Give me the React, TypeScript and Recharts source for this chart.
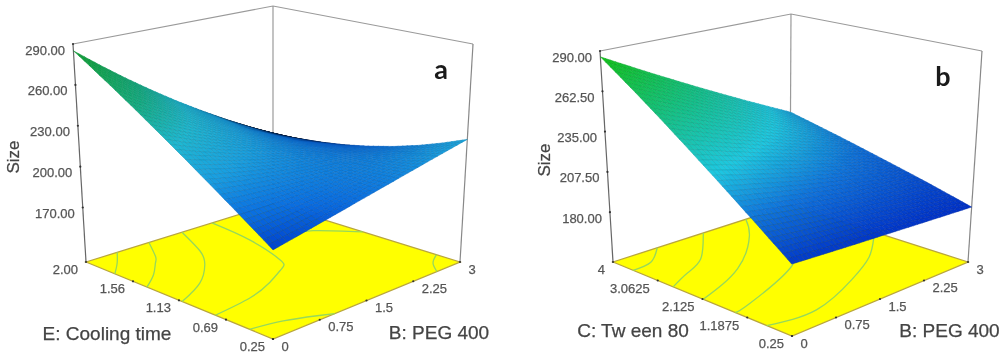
import React from "react";
import { ScatterChart, Scatter, XAxis, YAxis, Curve } from "recharts";

// ---------- values ----------
const pegTicks = [0, 0.75, 1.5, 2.25, 3];
const coolTicks = [0.25, 0.69, 1.13, 1.56, 2.0];
const tweenTicks = [0.25, 1.1875, 2.125, 3.0625, 4];
const sizeTicksA = [170, 200, 230, 260, 290];
const sizeTicksB = [180, 207.5, 235, 262.5, 290];

const sizeGridA = [
  [184, 187.6, 191.5, 195.6, 200, 204.6, 209.5, 214.6, 220],
  [194.8, 196.1, 197.6, 199.5, 201.6, 204, 206.7, 209.7, 213],
  [206.1, 205.1, 204.4, 204, 203.9, 204.1, 204.7, 205.6, 206.7],
  [217.9, 214.6, 211.7, 209.1, 206.9, 204.9, 203.4, 202.2, 201.3],
  [230.3, 224.8, 219.6, 214.9, 210.5, 206.5, 202.9, 199.6, 196.8],
  [243.1, 235.4, 228.1, 221.3, 214.8, 208.8, 203.1, 197.9, 193],
  [256.6, 246.8, 237.4, 228.4, 219.9, 211.8, 204.2, 197, 190.2],
  [270.5, 258.6, 247.1, 236.1, 225.6, 215.6, 205.9, 196.9, 188.2],
  [285, 271, 257.5, 244.5, 232, 220, 208.5, 197.5, 187],
];
const sizeGridB = [
  [186.6, 186.2, 185.8, 185.4, 185.1, 184.7, 184.3, 183.9, 183.5],
  [197.2, 196, 194.8, 193.6, 192.4, 191.2, 190, 188.8, 187.6],
  [208.3, 206.2, 204.2, 202.1, 200, 197.9, 195.9, 193.8, 191.7],
  [219.9, 216.9, 213.9, 210.8, 207.8, 204.8, 201.8, 198.8, 195.7],
  [232, 228, 223.9, 219.9, 215.9, 211.8, 207.8, 203.7, 199.7],
  [244.7, 239.6, 234.5, 229.4, 224.3, 219.1, 214, 208.9, 203.8],
  [258, 251.7, 245.5, 239.2, 233, 226.7, 220.4, 214.2, 207.9],
  [271.7, 264.2, 256.8, 249.3, 241.8, 234.3, 226.9, 219.4, 211.9],
  [286, 277.3, 268.5, 259.8, 251, 242.3, 233.5, 224.8, 216],
];

// floor contours as [PEG 400, second factor]
const contoursA = [
  [[0.5, 2], [0.26, 1.86], [0, 1.73]],
  [[1.01, 2], [0.74, 1.78], [0.6, 1.7], [0.33, 1.56], [0, 1.43]],
  [[1.54, 2], [1.25, 1.66], [0.98, 1.46], [0.54, 1.25], [0, 1.1]],
  [[2.02, 2], [1.92, 1.58], [1.71, 1.18], [1.53, 1.06], [1.13, 0.94], [0.64, 0.84], [0, 0.79]],
  [[0, 0.47], [0.44, 0.41], [0.81, 0.31], [0.99, 0.25]],
  [[2.4, 1.48], [2.65, 1.42], [3, 1.16]],
  [[3, 0.47], [2.79, 0.38], [2.63, 0.25]],
];
const contoursB = [
  [[0.75, 4], [0.35, 3.64], [0, 3.58]],
  [[1.53, 4], [0.89, 3.26], [0.45, 2.99], [0, 2.74]],
  [[2.25, 4], [1.86, 3.44], [0.99, 2.61], [0, 2.11]],
  [[0, 1.44], [0.32, 1.53], [1.47, 2.09], [1.8, 2.58]],
  [[0, 0.78], [0.75, 0.66], [1.7, 1.09], [2.36, 1.54], [2.85, 2.05]],
];

// ---------- panel set-up ----------
type Pt = [number, number];
const panelA = {
  grid: sizeGridA, contours: contoursA, sizeTicks: sizeTicksA, vTicks: coolTicks,
  sizeDomain: [130, 290], vDomain: [0.25, 2], fmtV: (t: number) => t.toFixed(2),
  floor: { F: [273, 339] as Pt, R: [460, 262] as Pt, L: [86, 262] as Pt, B: [273, 204] as Pt },
  top: { F: [273, 75] as Pt, R: [473, 44] as Pt, L: [73, 44] as Pt, B: [273, 6] as Pt },
  stops: [[184, 0, 65, 205], [198, 10, 110, 225], [215, 25, 160, 225], [232, 30, 185, 210], [252, 20, 175, 130], [285, 15, 165, 50]],
  titles: [
    { sx: 107, sy: 333, text: "E: Cooling time" },
    { sx: 439, sy: 332, text: "B: PEG 400" },
  ],
  sizeLabel: { sx: 13, sy: 157, text: "Size" },
  letter: { sx: 441, sy: 68, text: "a" },
};
const panelB = {
  grid: sizeGridB, contours: contoursB, sizeTicks: sizeTicksB, vTicks: tweenTicks,
  sizeDomain: [146, 290], vDomain: [0.25, 4], fmtV: (t: number) => String(t),
  floor: { F: [292, 336] as Pt, R: [468, 262] as Pt, L: [113, 262] as Pt, B: [290, 205] as Pt },
  top: { F: [291, 81] as Pt, R: [482, 51] as Pt, L: [100, 51] as Pt, B: [291, 14] as Pt },
  stops: [[184, 0, 50, 200], [205, 15, 115, 220], [225, 30, 200, 225], [250, 20, 195, 140], [285, 15, 195, 25]],
  titles: [
    { sx: 133, sy: 330, text: "C: Tw een 80" },
    { sx: 449.5, sy: 330, text: "B: PEG 400" },
  ],
  sizeLabel: { sx: 44, sy: 160, text: "Size" },
  letter: { sx: 443, sy: 75, text: "b" },
};
type Panel = typeof panelA;

const W = 500;
const H = 356;
const SUB = 5;

const mix = (a: Pt, b: Pt, t: number): Pt => [a[0] + (b[0] - a[0]) * t, a[1] + (b[1] - a[1]) * t];
const plane = (q: Panel["floor"], u: number, v: number): Pt =>
  mix(mix(q.F, q.R, u), mix(q.L, q.B, u), v);
const project = (p: Panel, u: number, v: number, w: number): Pt =>
  mix(plane(p.floor, u, v), plane(p.top, u, v), w);
const uOf = (peg: number) => peg / 3;
const vOf = (p: Panel, t: number) => (t - p.vDomain[0]) / (p.vDomain[1] - p.vDomain[0]);
const wOf = (p: Panel, z: number) => (z - p.sizeDomain[0]) / (p.sizeDomain[1] - p.sizeDomain[0]);

const at = (p: Panel, u: number, v: number, w: number, extra: object = {}) => {
  const [sx, sy] = project(p, u, v, w);
  return { sx, sy, ...extra };
};

const colorOf = (p: Panel, z: number, k: number) => {
  const s = p.stops;
  let c = s[s.length - 1].slice(1);
  if (z <= s[0][0]) c = s[0].slice(1);
  else
    for (let i = 0; i < s.length - 1; i++) {
      if (z >= s[i][0] && z <= s[i + 1][0]) {
        const t = (z - s[i][0]) / (s[i + 1][0] - s[i][0]);
        c = [1, 2, 3].map((n) => s[i][n] + (s[i + 1][n] - s[i][n]) * t);
      }
    }
  return `rgb(${c.map((x) => Math.round(x * k)).join(",")})`;
};

// one grid cell of the response surface
const CellShape = (props: any) => {
  const { cx, cy, payload } = props;
  const { panel: p, i, j } = payload as { panel: Panel; i: number; j: number };
  const n = p.grid.length - 1;
  const z00 = p.grid[j][i], z10 = p.grid[j][i + 1], z01 = p.grid[j + 1][i], z11 = p.grid[j + 1][i + 1];
  const ox = cx - payload.sx, oy = cy - payload.sy;
  const zAt = (s: number, t: number) => {
    const a = z00 + (z10 - z00) * s, b = z01 + (z11 - z01) * s;
    return a + (b - a) * t;
  };
  const pt = (s: number, t: number): Pt => {
    const q = project(p, (i + s) / n, (j + t) / n, wOf(p, zAt(s, t)));
    return [q[0] + ox, q[1] + oy];
  };
  const polys = [];
  for (let t = SUB - 1; t >= 0; t--) {
    for (let s = SUB - 1; s >= 0; s--) {
      const a = pt(s / SUB, t / SUB), b = pt((s + 1) / SUB, t / SUB);
      const c = pt((s + 1) / SUB, (t + 1) / SUB), d = pt(s / SUB, (t + 1) / SUB);
      const area = Math.abs((c[0] - a[0]) * (d[1] - b[1]) - (d[0] - b[0]) * (c[1] - a[1])) / 2;
      const k = Math.min(1, Math.pow(area / 3.5, 0.8));
      const z = zAt((s + 0.5) / SUB, (t + 0.5) / SUB);
      polys.push(
        <polygon
          key={`${s}-${t}`}
          points={[a, b, c, d].map((q) => q.join(",")).join(" ")}
          fill={colorOf(p, z, k)}
          stroke={colorOf(p, z, k * 0.84)}
          strokeWidth={0.5}
        />
      );
    }
  }
  return <g>{polys}</g>;
};

const FloorShape = (props: any) => {
  const { cx, cy, payload } = props;
  const p: Panel = payload.panel;
  const ox = cx - payload.sx, oy = cy - payload.sy;
  const pts = [p.floor.L, p.floor.F, p.floor.R, p.floor.B].map((q) => `${q[0] + ox},${q[1] + oy}`).join(" ");
  return <polygon points={pts} fill="#ffff00" stroke="#b9a63c" strokeWidth={1.3} />;
};

// a floor contour: smooth curve through the points
const ContourShape = (props: any) => {
  const { cx, cy, payload } = props;
  const ox = cx - payload.sx, oy = cy - payload.sy;
  const points = payload.pts.map((q: any) => ({ x: q.sx + ox, y: q.sy + oy }));
  return <Curve type="natural" points={points} fill="none" stroke="#96d85c" strokeWidth={1.3} />;
};

const textShape = (o: { anchor: string; dx?: number; dy?: number; size: number; fill: string; weight?: number; rotate?: number; family?: string }) =>
  (props: any) => {
    const x = props.cx + (o.dx || 0), y = props.cy + (o.dy || 0);
    return (
      <text
        x={x}
        y={y}
        textAnchor={o.anchor}
        dominantBaseline="central"
        fontFamily={o.family || "'Liberation Sans', Arial, sans-serif"}
        fontSize={o.size}
        fontWeight={o.weight || 400}
        fill={o.fill}
        stroke={o.weight ? "none" : o.fill}
        strokeWidth={o.weight ? 0 : 0.25}
        transform={o.rotate ? `rotate(${o.rotate} ${x} ${y})` : undefined}
      >
        {props.payload.text}
      </text>
    );
  };
const noDot = () => <g />;
const tickDot = (props: any) => <circle cx={props.cx} cy={props.cy} r={1.1} fill="#333" />;
const Series = Scatter as any;

const Panel3D = ({ p, left }: { p: Panel; left: number }) => {
  const n = p.grid.length - 1;
  const cells: any[] = [];
  for (let sum = 2 * n - 2; sum >= 0; sum--) {
    for (let j = n - 1; j >= 0; j--) {
      const i = sum - j;
      if (i < 0 || i >= n) continue;
      cells.push(at(p, i / n, j / n, wOf(p, p.grid[j][i]), { panel: p, i, j }));
    }
  }
  const sizeAxisPts = p.sizeTicks.map((z) => at(p, 0, 1, wOf(p, z), { text: z.toFixed(2) }));
  const vPts = p.vTicks.map((t) => at(p, 0, vOf(p, t), 0, { text: p.fmtV(t) }));
  const pegPts = pegTicks.map((b) => at(p, uOf(b), 0, 0, { text: String(b) }));
  const frameBack = [at(p, 0, 1, 1), at(p, 1, 1, 1), at(p, 1, 0, 1)];
  const backPost = [at(p, 1, 1, 0), at(p, 1, 1, 1)];
  const leftPost = [at(p, 0, 1, 0), at(p, 0, 1, 1)];
  const rightPost = [at(p, 1, 0, 0), at(p, 1, 0, 1)];
  return (
    <div style={{ position: "absolute", left, top: 0, width: W, height: H }}>
      <ScatterChart width={W} height={H} margin={{ top: 0, right: 0, bottom: 0, left: 0 }}>
        <XAxis type="number" dataKey="sx" domain={[0, W]} hide />
        <YAxis type="number" dataKey="sy" domain={[0, H]} reversed hide />
        <Series data={backPost} line={{ stroke: "#9a9a9a", strokeWidth: 1.2 }} shape={noDot} isAnimationActive={false} />
        <Series data={frameBack} line={{ stroke: "#9a9a9a", strokeWidth: 1.2 }} shape={noDot} isAnimationActive={false} />
        <Series data={leftPost} line={{ stroke: "#666", strokeWidth: 1.2 }} shape={noDot} isAnimationActive={false} />
        <Series data={rightPost} line={{ stroke: "#888", strokeWidth: 1.2 }} shape={noDot} isAnimationActive={false} />
        <Series data={[at(p, 0, 0, 0, { panel: p })]} shape={FloorShape} isAnimationActive={false} />
        {p.contours.map((c, k) => {
          const pts = c.map(([b, t]) => at(p, uOf(b), vOf(p, t), 0));
          return <Series key={k} data={[{ ...pts[0], pts }]} shape={ContourShape} isAnimationActive={false} />;
        })}
        <Series data={cells} shape={CellShape} isAnimationActive={false} />
        <Series data={sizeAxisPts} shape={tickDot} isAnimationActive={false} />
        <Series data={vPts} shape={tickDot} isAnimationActive={false} />
        <Series data={pegPts} shape={tickDot} isAnimationActive={false} />
        <Series data={sizeAxisPts} shape={textShape({ anchor: "end", dx: -8, dy: 6, size: 13, fill: "#555" })} isAnimationActive={false} />
        <Series data={vPts} shape={textShape({ anchor: "end", dx: -8, dy: 7.5, size: 13, fill: "#555" })} isAnimationActive={false} />
        <Series data={pegPts} shape={textShape({ anchor: "start", dx: 8.5, dy: 7, size: 13, fill: "#555" })} isAnimationActive={false} />
        <Series data={p.titles} shape={textShape({ anchor: "middle", size: 19, fill: "#444" })} isAnimationActive={false} />
        <Series data={[p.sizeLabel]} shape={textShape({ anchor: "middle", size: 17, fill: "#444", rotate: -90 })} isAnimationActive={false} />
        <Series data={[p.letter]} shape={textShape({ anchor: "middle", size: 27, fill: "#1a1a1a", weight: 700, family: "Lato, sans-serif" })} isAnimationActive={false} />
      </ScatterChart>
    </div>
  );
};

export default function App() {
  return (
    <div style={{ position: "absolute", left: 0, top: 0, width: 1000, height: 356, background: "#fff", overflow: "hidden", filter: "blur(0.5px)" }}>
      <Panel3D p={panelA} left={0} />
      <Panel3D p={panelB} left={500} />
    </div>
  );
}
